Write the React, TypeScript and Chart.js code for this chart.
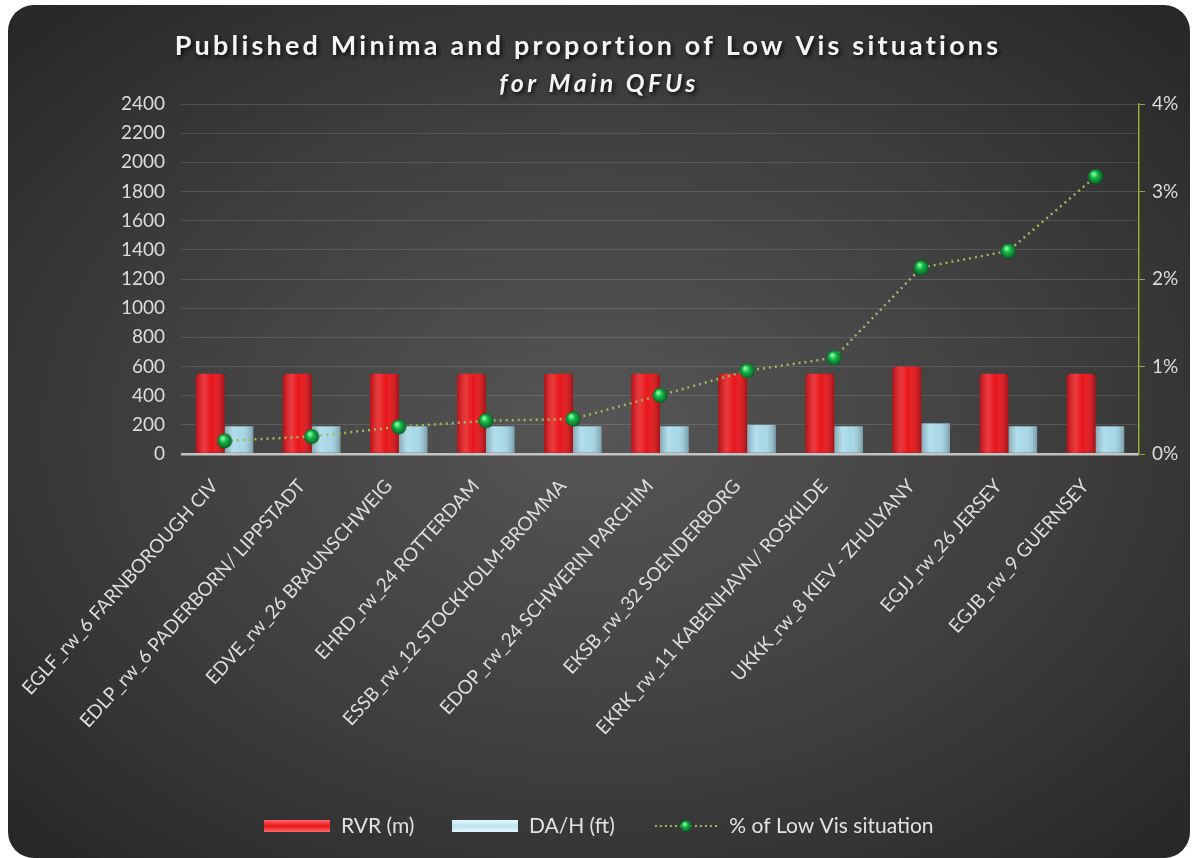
import React, { useEffect, useRef } from 'react';
import { Chart, registerables } from 'chart.js';

Chart.register(...registerables);

const TITLE = 'Published Minima and proportion of Low Vis situations';
const SUBTITLE = 'for Main QFUs';

const categories = [
  'EGLF_rw_6 FARNBOROUGH CIV',
  'EDLP_rw_6 PADERBORN/ LIPPSTADT',
  'EDVE_rw_26 BRAUNSCHWEIG',
  'EHRD_rw_24 ROTTERDAM',
  'ESSB_rw_12 STOCKHOLM-BROMMA',
  'EDOP_rw_24 SCHWERIN PARCHIM',
  'EKSB_rw_32 SOENDERBORG',
  'EKRK_rw_11 KABENHAVN/ ROSKILDE',
  'UKKK_rw_8 KIEV - ZHULYANY',
  'EGJJ_rw_26 JERSEY',
  'EGJB_rw_9 GUERNSEY',
];

const rvrValues = [550, 550, 550, 550, 550, 550, 550, 550, 600, 550, 550];
const dahValues = [190, 190, 190, 190, 190, 190, 200, 190, 210, 190, 190];
const lowVisPercent = [0.15, 0.2, 0.31, 0.38, 0.4, 0.67, 0.95, 1.1, 2.13, 2.32, 3.17];

const seriesNames = ['RVR (m)', 'DA/H (ft)', '% of Low Vis situation'];

const leftAxisMax = 2400;
const leftAxisStep = 200;
const rightAxisMax = 4;
const rightAxisStep = 1;

const FONT = 'Lato, "Open Sans", sans-serif';

function makeSphere(size: number): HTMLCanvasElement {
  const c = document.createElement('canvas');
  c.width = size;
  c.height = size;
  const g = c.getContext('2d')!;
  const r = size / 2;
  const grad = g.createRadialGradient(r * 0.75, r * 0.65, 1, r, r, r);
  grad.addColorStop(0, '#7dff9e');
  grad.addColorStop(0.35, '#19b84a');
  grad.addColorStop(0.8, '#0a7a2c');
  grad.addColorStop(1, '#064d1b');
  g.fillStyle = grad;
  g.beginPath();
  g.arc(r, r, r - 0.5, 0, Math.PI * 2);
  g.fill();
  return c;
}

function makeBarIcon(w: number, h: number, base: string, light: string): HTMLCanvasElement {
  const c = document.createElement('canvas');
  c.width = w;
  c.height = h;
  const g = c.getContext('2d')!;
  const grad = g.createLinearGradient(0, 0, 0, h);
  grad.addColorStop(0, light);
  grad.addColorStop(0.5, base);
  grad.addColorStop(1, light);
  g.fillStyle = grad;
  g.fillRect(0, 0, w, h);
  return c;
}

function makeLineIcon(w: number, h: number, sphere: HTMLCanvasElement): HTMLCanvasElement {
  const c = document.createElement('canvas');
  c.width = w;
  c.height = h;
  const g = c.getContext('2d')!;
  g.strokeStyle = '#9bbb59';
  g.lineWidth = 2;
  g.setLineDash([2, 3]);
  g.beginPath();
  g.moveTo(0, h / 2);
  g.lineTo(w, h / 2);
  g.stroke();
  const s = 12;
  g.drawImage(sphere, w / 2 - s / 2, h / 2 - s / 2, s, s);
  return c;
}

const titlePlugin = {
  id: 'customTitle',
  afterDraw(chart: any) {
    const ctx = chart.ctx as CanvasRenderingContext2D;
    ctx.save();
    ctx.textAlign = 'center';
    ctx.textBaseline = 'alphabetic';
    ctx.shadowColor = 'rgba(0,0,0,0.85)';
    ctx.shadowBlur = 4;
    ctx.shadowOffsetX = 2;
    ctx.shadowOffsetY = 2;
    ctx.fillStyle = '#f4f4f4';
    (ctx as any).letterSpacing = '3.2px';
    ctx.font = `bold 27px ${FONT}`;
    ctx.fillText(TITLE, 580, 50);
    (ctx as any).letterSpacing = '3.5px';
    ctx.font = `italic bold 25px ${FONT}`;
    ctx.fillText(SUBTITLE, 591, 87);
    ctx.restore();
  },
};

const barShadePlugin = {
  id: 'barShade',
  afterDatasetDraw(chart: any, args: any) {
    const meta = args.meta;
    if (meta.type !== 'bar') return;
    const ctx = chart.ctx as CanvasRenderingContext2D;
    ctx.save();
    meta.data.forEach((el: any) => {
      const { x, y, base, width } = el.getProps(['x', 'y', 'base', 'width'], true);
      const left = x - width / 2;
      const grad = ctx.createLinearGradient(left, 0, left + width, 0);
      grad.addColorStop(0, 'rgba(0,0,0,0.22)');
      grad.addColorStop(0.3, 'rgba(255,255,255,0.16)');
      grad.addColorStop(0.55, 'rgba(255,255,255,0)');
      grad.addColorStop(1, 'rgba(0,0,0,0.28)');
      ctx.fillStyle = grad;
      ctx.fillRect(left, y, width, base - y);
    });
    ctx.restore();
  },
};

export default function App() {
  const canvasRef = useRef<HTMLCanvasElement | null>(null);

  useEffect(() => {
    if (!canvasRef.current) return;
    const sphere = makeSphere(16);
    const redIcon = makeBarIcon(66, 12, '#e8161b', '#ff6a6a');
    const blueIcon = makeBarIcon(66, 12, '#b8e4ef', '#e8f8fc');
    const lineIcon = makeLineIcon(62, 14, sphere);
    const icons = [redIcon, blueIcon, lineIcon];

    const chart = new Chart(canvasRef.current, {
      type: 'bar',
      data: {
        labels: categories,
        datasets: [
          {
            type: 'bar',
            label: seriesNames[0],
            data: rvrValues,
            backgroundColor: '#e8161b',
            borderRadius: { topLeft: 4, topRight: 4, bottomLeft: 0, bottomRight: 0 },
            borderSkipped: false,
            yAxisID: 'y',
            order: 2,
            categoryPercentage: 0.66,
            barPercentage: 1,
          },
          {
            type: 'bar',
            label: seriesNames[1],
            data: dahValues,
            backgroundColor: '#a6d8e7',
            yAxisID: 'y',
            order: 2,
            categoryPercentage: 0.66,
            barPercentage: 1,
          },
          {
            type: 'line',
            label: seriesNames[2],
            data: lowVisPercent,
            yAxisID: 'y1',
            borderColor: '#9bbb59',
            borderWidth: 2.5,
            borderDash: [2, 4],
            fill: false,
            tension: 0,
            pointStyle: sphere as any,
            pointRadius: 8,
            order: 0,
          },
        ],
      } as any,
      options: {
        animation: false,
        responsive: false,
        layout: { padding: { top: 99, left: 0, right: 0, bottom: 11.5 } },
        plugins: {
          tooltip: { enabled: false },
          title: { display: false },
          legend: {
            position: 'bottom',
            align: 'center',
            labels: {
              color: '#e2e2e2',
              font: { family: FONT, size: 21 },
              usePointStyle: true,
              pointStyleWidth: 66,
              boxHeight: 21,
              padding: 38,
              generateLabels: () =>
                seriesNames.map((name, i) => ({
                  text: name,
                  fillStyle: 'transparent',
                  strokeStyle: 'transparent',
                  lineWidth: 0,
                  pointStyle: icons[i] as any,
                  hidden: false,
                  datasetIndex: i,
                  fontColor: '#e2e2e2',
                })),
            },
          },
        },
        scales: {
          x: {
            grid: { display: false },
            border: { display: false },
            ticks: {
              color: '#dedede',
              font: { family: FONT, size: 19 },
              maxRotation: 48,
              minRotation: 48,
              autoSkip: false,
              padding: 13,
              labelOffset: -10,
            },
            afterFit: (s: any) => {
              s.height = 323.5;
            },
          },
          y: {
            position: 'left',
            min: 0,
            max: leftAxisMax,
            ticks: {
              stepSize: leftAxisStep,
              color: '#dcdcdc',
              font: { family: FONT, size: 19 },
              padding: 16,
              callback: (v: any) => String(v),
            },
            grid: {
              drawTicks: false,
              color: (c: any) => (c.tick && c.tick.value === 0 ? '#c4c4c4' : 'rgba(255,255,255,0.13)'),
              lineWidth: (c: any) => (c.tick && c.tick.value === 0 ? 2.5 : 1),
            },
            border: { display: false },
            afterFit: (s: any) => {
              s.width = 173;
            },
          },
          y1: {
            position: 'right',
            min: 0,
            max: rightAxisMax,
            ticks: {
              stepSize: rightAxisStep,
              color: '#dcdcdc',
              font: { family: FONT, size: 19 },
              padding: 7,
              callback: (v: any) => `${v}%`,
            },
            grid: {
              drawOnChartArea: false,
              color: '#8db03c',
              tickLength: 6,
            },
            border: { display: true, color: '#8db03c', width: 1.5 },
            afterFit: (s: any) => {
              s.width = 51;
            },
          },
        },
      } as any,
      plugins: [titlePlugin, barShadePlugin],
    });

    return () => {
      chart.destroy();
    };
  }, []);

  return (
    <div
      style={{
        position: 'fixed',
        left: 8,
        top: 5,
        width: 1182,
        height: 853,
        borderRadius: 26,
        overflow: 'hidden',
        background: 'radial-gradient(ellipse at 50% 50%, #565656 0%, #3e3e3e 55%, #262626 100%)',
      }}
    >
      <canvas ref={canvasRef} width={1182} height={853} style={{ display: 'block' }} />
    </div>
  );
}
